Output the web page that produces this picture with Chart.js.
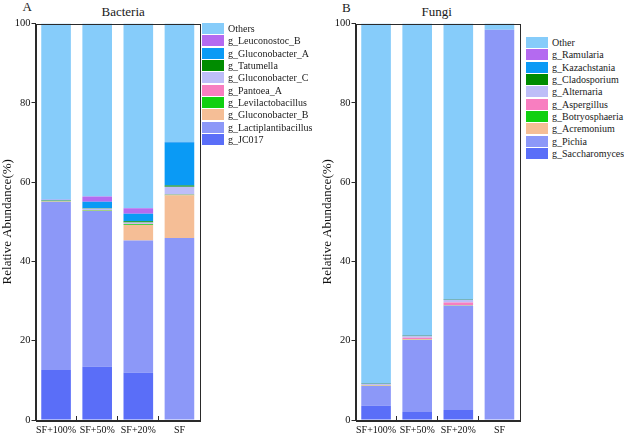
<!DOCTYPE html>
<html>
<head>
<meta charset="utf-8">
<script src="https://cdn.jsdelivr.net/npm/chart.js@4.4.1/dist/chart.umd.min.js"></script>
<style>
  html, body { margin: 0; padding: 0; background: #fff; }
  body { width: 624px; height: 438px; position: relative; overflow: hidden; font-family: "Liberation Serif", "DejaVu Serif", "Noto Serif", Tinos, "Times New Roman", serif; color: #1a1a1a; }
  .panel { position: absolute; top: 0; width: 205px; height: 438px; }
  .lbl { position: absolute; font-size: 13px; line-height: 13px; white-space: nowrap; }
  .legend { position: absolute; font-size: 10px; }
  .legend .row { height: 12.3px; display: flex; align-items: center; white-space: nowrap; }
  .legend .box { width: 22px; height: 11px; margin-right: 4px; flex: none; }
</style>
</head>
<body>
<div class="lbl" style="left:22.5px; top:0px;">A</div>
<div class="lbl" style="left:101.5px; top:5px;">Bacteria</div>
<div class="lbl" style="left:342px; top:0.5px;">B</div>
<div class="lbl" style="left:421.5px; top:5px;">Fungi</div>
<div class="panel" style="left:0px;"><canvas id="c1" width="205" height="438"></canvas></div>
<div class="panel" style="left:320px;"><canvas id="c2" width="205" height="438"></canvas></div>
<div class="legend" id="leg1" style="left:202px; top:22.5px;"></div>
<div class="legend" id="leg2" style="left:526px; top:36.5px;"></div>
<script>
// ---------- data ----------
const categories = ['SF+100%', 'SF+50%', 'SF+20%', 'SF'];
const yTicks = [0, 20, 40, 60, 80, 100];

// Bacteria (bottom of stack first)
const bacteriaGenera = ['g_JC017', 'g_Lactiplantibacillus', 'g_Gluconobacter_B', 'g_Levilactobacillus',
  'g_Pantoea_A', 'g_Gluconobacter_C', 'g_Tatumella', 'g_Gluconobacter_A', 'g_Leuconostoc_B', 'Others'];
const b_JC017            = [12.6, 13.4, 11.9, 0];
const b_Lactiplantibacillus = [42.4, 39.3, 33.4, 45.9];
const b_Gluconobacter_B  = [0.05, 0.1, 3.9, 10.8];
const b_Levilactobacillus = [0.05, 0.1, 0.2, 0.1];
const b_Pantoea_A        = [0.05, 0.05, 0.1, 0.05];
const b_Gluconobacter_C  = [0.15, 0.4, 0.3, 2.0];
const b_Tatumella        = [0.15, 0.1, 0.3, 0.3];
const b_Gluconobacter_A  = [0.05, 1.6, 1.9, 10.9];
const b_Leuconostoc_B    = [0.05, 1.3, 1.4, 0.05];
const b_Others           = [44.45, 43.65, 46.6, 29.9];
const bacteriaValues = [b_JC017, b_Lactiplantibacillus, b_Gluconobacter_B, b_Levilactobacillus,
  b_Pantoea_A, b_Gluconobacter_C, b_Tatumella, b_Gluconobacter_A, b_Leuconostoc_B, b_Others];

// Fungi (bottom of stack first)
const fungiGenera = ['g_Saccharomyces', 'g_Pichia', 'g_Acremonium', 'g_Botryosphaeria', 'g_Aspergillus',
  'g_Alternaria', 'g_Cladosporium', 'g_Kazachstania', 'g_Ramularia', 'Other'];
const f_Saccharomyces  = [3.6, 2.0, 2.5, 0];
const f_Pichia         = [5.0, 18.2, 26.3, 98.4];
const f_Acremonium     = [0.1, 0.1, 0.1, 0];
const f_Botryosphaeria = [0.05, 0.05, 0.05, 0];
const f_Aspergillus    = [0.1, 0.4, 0.7, 0];
const f_Alternaria     = [0.2, 0.4, 0.6, 0];
const f_Cladosporium   = [0.1, 0.1, 0.1, 0];
const f_Kazachstania   = [0.05, 0.05, 0.05, 0];
const f_Ramularia      = [0.05, 0.05, 0.05, 0];
const f_Other          = [90.75, 78.65, 69.55, 1.6];
const fungiValues = [f_Saccharomyces, f_Pichia, f_Acremonium, f_Botryosphaeria, f_Aspergillus,
  f_Alternaria, f_Cladosporium, f_Kazachstania, f_Ramularia, f_Other];

// colours (same order, bottom of stack first)
const palette = ['#5a6ef8', '#8c98f8', '#f5be96', '#10d010', '#f87ec0', '#bebef8', '#008c00', '#0a9af5', '#b46af0', '#86ccfa'];

// ---------- chart ----------
const FONT = '"Liberation Serif", "DejaVu Serif", "Noto Serif", Tinos, serif';
const INK = '#2a2a2a';

const frame = {
  id: 'frame',
  afterDraw(chart) {
    const a = chart.chartArea, ctx = chart.ctx;
    ctx.save();
    ctx.strokeStyle = INK;
    ctx.lineWidth = 1;
    ctx.strokeRect(Math.round(a.left) + 0.5, Math.round(a.top) + 0.5, Math.round(a.right - a.left) - 1, Math.round(a.bottom - a.top));
    ctx.restore();
  }
};

function makeChart(id, names, values) {
  return new Chart(document.getElementById(id), {
    type: 'bar',
    data: {
      labels: categories,
      datasets: names.map((n, i) => ({
        label: n,
        data: values[i],
        backgroundColor: palette[i],
        borderWidth: 0,
        barPercentage: 0.72,
        categoryPercentage: 1.0
      }))
    },
    options: {
      responsive: false,
      animation: false,
      devicePixelRatio: 1,
      layout: { padding: { top: 23.5, right: 5, left: 0, bottom: 0 } },
      plugins: { legend: { display: false }, tooltip: { enabled: false }, title: { display: false } },
      scales: {
        x: {
          stacked: true,
          offset: true,
          z: 1,
          grid: { drawOnChartArea: false, drawTicks: true, tickLength: -4, color: INK, tickWidth: 1 },
          border: { color: INK, width: 1 },
          ticks: { color: '#111', font: { family: FONT, size: 10 }, padding: 8, maxRotation: 0, autoSkip: false },
          afterFit(s) { s.height = 18; }
        },
        y: {
          stacked: true,
          min: 0,
          max: 100,
          afterBuildTicks(s) { s.ticks = yTicks.map(v => ({ value: v })); },
          grid: { drawOnChartArea: false, drawTicks: true, tickLength: 4, color: INK },
          border: { color: INK, width: 1 },
          ticks: { color: '#111', font: { family: FONT, size: 10.5 }, padding: 1 },
          title: { display: true, text: 'Relative Abundance(%)', color: '#111', font: { family: FONT, size: 13 }, padding: 0 },
          afterFit(s) { s.width = 35.5; }
        }
      }
    },
    plugins: [frame]
  });
}

makeChart('c1', bacteriaGenera, bacteriaValues);
makeChart('c2', fungiGenera, fungiValues);

function makeLegend(id, names) {
  const el = document.getElementById(id);
  for (let i = names.length - 1; i >= 0; i--) {
    const row = document.createElement('div');
    row.className = 'row';
    const box = document.createElement('div');
    box.className = 'box';
    box.style.background = palette[i];
    const t = document.createElement('span');
    t.textContent = names[i];
    row.appendChild(box);
    row.appendChild(t);
    el.appendChild(row);
  }
}
makeLegend('leg1', bacteriaGenera);
makeLegend('leg2', fungiGenera);
</script>
</body>
</html>
